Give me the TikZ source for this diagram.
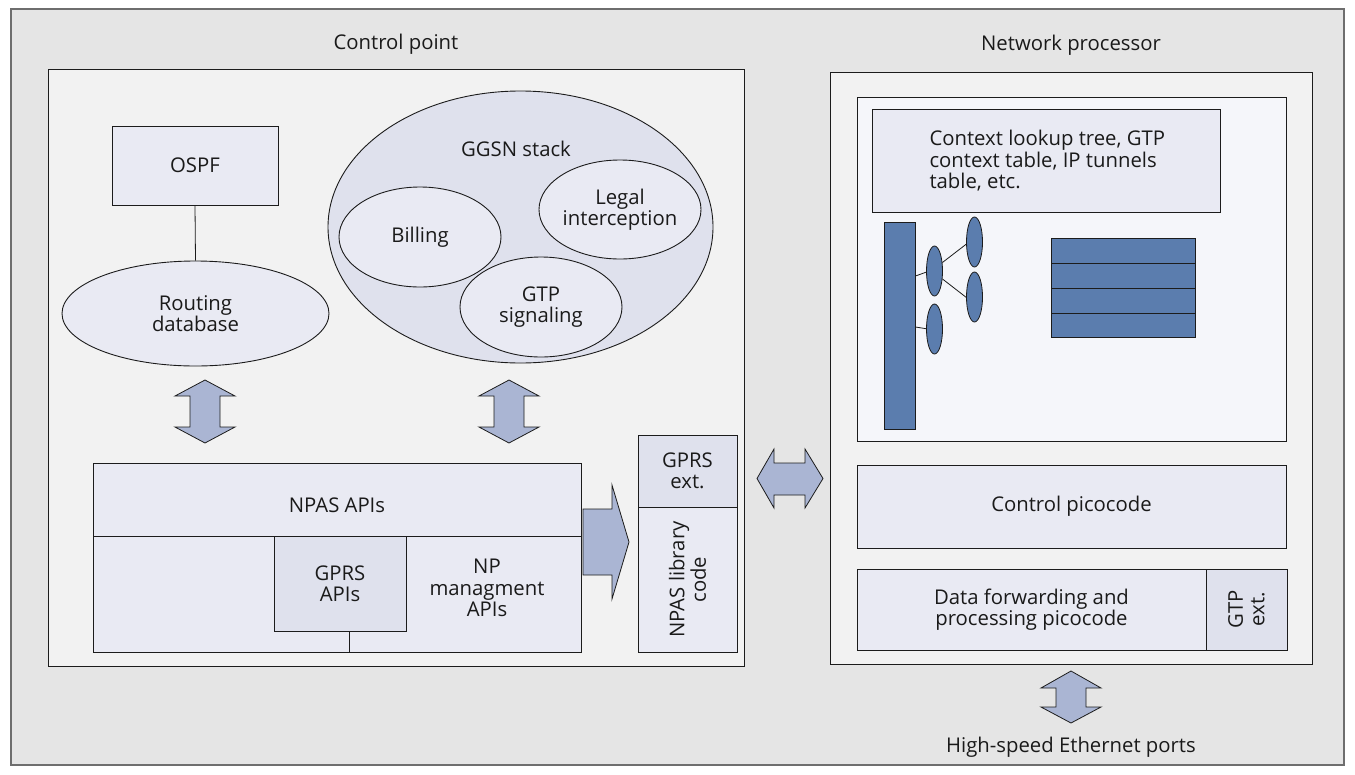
\documentclass[tikz,border=0pt]{standalone}
\usepackage{fontspec}
\setmainfont{Open Sans}
\usetikzlibrary{shapes.geometric}
\definecolor{framefill}{HTML}{E5E5E5}
\definecolor{framedraw}{HTML}{6E6E6E}
\definecolor{boxfill}{HTML}{F2F2F2}
\definecolor{innerfill}{HTML}{F5F6FA}
\definecolor{lav}{HTML}{E9EAF3}
\definecolor{lavdark}{HTML}{DFE1ED}
\definecolor{arrowfill}{HTML}{AAB5D3}
\definecolor{npblue}{HTML}{5B7DAE}
\definecolor{linec}{HTML}{1C1C1C}
\definecolor{textc}{HTML}{1A1A1A}
\begin{document}
\begin{tikzpicture}[x=1pt,y=-1pt,
  txt/.style={font=\fontsize{20.3}{21.5}\selectfont, text=textc, align=center},
  box/.style={draw=linec, line width=0.9pt, inner sep=0pt, txt},
  oval/.style={ellipse, draw=linec, line width=0.9pt, inner sep=0pt, fill=lav, txt},
  blockarrow/.style={draw=linec, line width=0.8pt, fill=arrowfill, line join=miter},
  bluebox/.style={draw=linec, line width=0.9pt, fill=npblue, inner sep=0pt},
  blueoval/.style={ellipse, draw=linec, line width=0.8pt, fill=npblue, inner sep=0pt, minimum width=16pt, minimum height=50pt},
  thin/.style={draw=linec, line width=0.8pt}]
\useasboundingbox (0,0) rectangle (1355,774);
% outer frame
\draw[draw=framedraw, line width=1.3pt, fill=framefill] (11,9) rectangle (1344,765);

% ---------- Control point ----------
\node[txt] (cptitle) at (396,44) {Control point};
\node[box, fill=boxfill, minimum width=696pt, minimum height=597pt] (cp) at (396,367.5) {};

\node[box, fill=lav, minimum width=166pt, minimum height=79pt] (ospf) at (195,165.5) {OSPF};
\node[oval, minimum width=267pt, minimum height=105pt] (routing) at (195.5,313.5) {Routing\\database};
\draw[thin] (ospf.south) -- (routing.north);

\node[oval, fill=lavdark, minimum width=385pt, minimum height=272pt] (ggsn) at (520.5,227) {};
\node[txt] (ggsnlbl) at (516,149) {GGSN stack};
\node[oval, minimum width=162pt, minimum height=100pt] (billing) at (420,237) {Billing};
\node[oval, minimum width=162pt, minimum height=99pt] (legal) at (620,209.5) {Legal\\interception};
\node[oval, minimum width=162pt, minimum height=100pt] (gtpsig) at (541,307) {GTP\\signaling};

% vertical double arrows
\draw[blockarrow] (205,380) -- (235,396) -- (220,396) -- (220,427) -- (235,427) -- (205,443)
  -- (175,427) -- (190,427) -- (190,396) -- (175,396) -- cycle;
\draw[blockarrow] (509,380) -- (539,396) -- (524,396) -- (524,427) -- (539,427) -- (509,443)
  -- (479,427) -- (494,427) -- (494,396) -- (479,396) -- cycle;

% NPAS APIs block
\node[box, fill=lav, minimum width=488pt, minimum height=73pt] (npastop) at (337,499.5) {};
\node[txt] (npaslbl) at (337,505) {NPAS APIs};
\node[box, fill=lav, minimum width=488pt, minimum height=116pt] (npasbot) at (337,594) {};
\node[box, fill=lavdark, minimum width=132pt, minimum height=95pt] (gprsapi) at (340,583.5) {GPRS\\APIs};
\draw[thin] ([xshift=9.5pt]gprsapi.south) -- ([xshift=9.5pt]gprsapi.south |- npasbot.south);
\node[txt] (npmgmt) at (487,588) {NP\\managment\\APIs};

% big right arrow
\draw[blockarrow] (583,509) -- (612,509) -- (612,485) -- (629,542) -- (612,599) -- (612,575) -- (583,575) -- cycle;

% GPRS ext / NPAS library code
\node[box, fill=lavdark, minimum width=99pt, minimum height=72pt] (gprsext) at (687.5,471) {GPRS\\ext.};
\node[box, fill=lav, minimum width=99pt, minimum height=145pt] (npaslib) at (687.5,579.5) {};
\node[txt, rotate=90] (npasliblbl) at (npaslib.center) {NPAS library\\code};

% horizontal double arrow
\draw[blockarrow] (757,478.5) -- (774,449) -- (774,463) -- (805,463) -- (805,449) -- (823,478.5)
  -- (805,508) -- (805,495) -- (774,495) -- (774,508) -- cycle;

% ---------- Network processor ----------
\node[txt] (nptitle) at (1071,45) {Network processor};
\node[box, fill=boxfill, minimum width=482pt, minimum height=592pt] (np) at (1071,368) {};
\node[box, fill=innerfill, minimum width=429pt, minimum height=344pt] (inner) at (1071.5,269) {};
\node[box, fill=lav, minimum width=348pt, minimum height=103pt] (ctx) at (1046,160.5) {};
\node[txt, align=left, anchor=west] (ctxlbl) at (926,161) {Context lookup tree, GTP\\context table, IP tunnels\\table, etc.};

\node[bluebox, minimum width=31pt, minimum height=207pt] (bar) at (899.5,325.5) {};
\node[blueoval] (e1) at (934.5,271) {};
\node[blueoval] (e2) at (934.5,329) {};
\node[blueoval] (e3) at (974.5,242) {};
\node[blueoval] (e4) at (974.5,297) {};
\draw[thin] (bar.east |- 0,276) -- (e1.188);
\draw[thin] (bar.east |- 0,327) -- (e2.178);
\draw[thin] (e1.47) -- (e3.195);
\draw[thin] (e1.-45) -- (e4.182);

\node[bluebox, minimum width=144pt, minimum height=25pt] (row1) at (1123,250.5) {};
\node[bluebox, minimum width=144pt, minimum height=25pt] (row2) at (1123,275.5) {};
\node[bluebox, minimum width=144pt, minimum height=25pt] (row3) at (1123,300.5) {};
\node[bluebox, minimum width=144pt, minimum height=24pt] (row4) at (1123,325) {};

\node[box, fill=lav, minimum width=429pt, minimum height=83pt] (cpico) at (1071.5,506.5) {Control picocode};
\node[box, fill=lav, minimum width=349pt, minimum height=81pt] (data) at (1031.5,609.5) {Data forwarding and\\processing picocode};
\node[box, fill=lavdark, minimum width=81pt, minimum height=81pt] (gtpext) at (1246.5,609.5) {};
\node[txt, rotate=90] (gtpextlbl) at (gtpext.center) {GTP\\ext.};

% bottom double arrow
\draw[blockarrow] (1071,671) -- (1101,688) -- (1086,688) -- (1086,707) -- (1101,707) -- (1071,723)
  -- (1041,707) -- (1056,707) -- (1056,688) -- (1041,688) -- cycle;
\node[txt] (ports) at (1071,747) {High-speed Ethernet ports};
\end{tikzpicture}
\end{document}
